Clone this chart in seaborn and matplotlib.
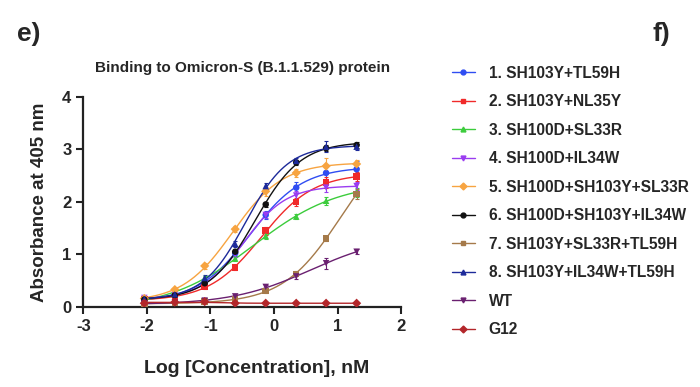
import numpy as np
import pandas as pd
import matplotlib
matplotlib.use("Agg")
import matplotlib.pyplot as plt
from matplotlib.lines import Line2D
import seaborn as sns

# ── Data ──────────────────────────────────────────────────────
log_conc = [-2.04, -1.56, -1.09, -0.61, -0.13, 0.35, 0.82, 1.30]

names = [
    "1. SH103Y+TL59H", "2. SH103Y+NL35Y", "3. SH100D+SL33R", "4. SH100D+IL34W",
    "5. SH100D+SH103Y+SL33R", "6. SH100D+SH103Y+IL34W", "7. SH103Y+SL33R+TL59H",
    "8. SH103Y+IL34W+TL59H", "WT", "G12",
]

s1  = [0.15, 0.23, 0.48, 1.02, 1.75, 2.27, 2.55, 2.62]
s2  = [0.14, 0.20, 0.38, 0.75, 1.45, 2.00, 2.37, 2.48]
s3  = [0.16, 0.24, 0.55, 0.92, 1.35, 1.72, 2.02, 2.18]
s4  = [0.17, 0.23, 0.45, 1.00, 1.75, 2.12, 2.27, 2.30]
s5  = [0.16, 0.33, 0.78, 1.48, 2.20, 2.55, 2.68, 2.72]
s6  = [0.14, 0.22, 0.45, 1.05, 1.95, 2.75, 3.02, 3.08]
s7  = [0.05, 0.07, 0.10, 0.15, 0.30, 0.63, 1.30, 2.15]
s8  = [0.15, 0.24, 0.55, 1.20, 2.30, 2.78, 3.05, 3.05]
swt = [0.07, 0.08, 0.12, 0.20, 0.38, 0.58, 0.83, 1.05]
g12 = [0.07, 0.09, 0.10, 0.07, 0.07, 0.07, 0.07, 0.07]

errs = [
    [0.02, 0.03, 0.04, 0.06, 0.08, 0.10, 0.12, 0.15],
    [0.02, 0.02, 0.03, 0.04, 0.08, 0.08, 0.10, 0.08],
    [0.02, 0.02, 0.03, 0.05, 0.06, 0.05, 0.08, 0.08],
    [0.02, 0.02, 0.03, 0.05, 0.06, 0.08, 0.08, 0.08],
    [0.02, 0.03, 0.05, 0.06, 0.08, 0.08, 0.15, 0.08],
    [0.02, 0.02, 0.03, 0.05, 0.05, 0.05, 0.06, 0.06],
    [0.01, 0.01, 0.02, 0.02, 0.03, 0.05, 0.05, 0.10],
    [0.02, 0.03, 0.05, 0.06, 0.06, 0.06, 0.10, 0.06],
    [0.01, 0.01, 0.02, 0.02, 0.03, 0.04, 0.10, 0.05],
    [0.01, 0.01, 0.01, 0.01, 0.01, 0.01, 0.01, 0.01],
]

colors  = ["#2f4df2", "#f02a2a", "#3ccc3c", "#9a3cf0", "#f7a441",
           "#111111", "#a57a4a", "#1d2a9a", "#6a2070", "#b3262a"]
markers = ["o", "s", "^", "v", "D", "o", "s", "^", "v", "D"]

series = [s1, s2, s3, s4, s5, s6, s7, s8, swt, g12]

df = pd.DataFrame({
    "x": np.tile(log_conc, len(names)),
    "y": np.concatenate(series),
    "sample": np.repeat(names, len(log_conc)),
})


# ── 4PL fit of each series (like the GraphPad curves) ────────
def fit_4pl(x, y):
    x, y = np.asarray(x), np.asarray(y)
    best = None
    for c in np.linspace(-1.5, 3.0, 181):
        for h in np.linspace(0.3, 3.0, 55):
            f = 1 / (1 + 10 ** ((c - x) * h))
            A = np.column_stack([1 - f, f])
            coef, *_ = np.linalg.lstsq(A, y, rcond=None)
            sse = np.sum((A @ coef - y) ** 2)
            if best is None or sse < best[0]:
                best = (sse, c, h, coef)
    _, c, h, (bot, top) = best
    return lambda xx: bot + (top - bot) / (1 + 10 ** ((c - xx) * h))


xs = np.linspace(min(log_conc), max(log_conc), 200)
curves = []
for name, ys in zip(names, series):
    curves.append(pd.DataFrame({"x": xs, "y": fit_4pl(log_conc, ys)(xs), "sample": name}))
curve_df = pd.concat(curves)

# ── Figure ────────────────────────────────────────────────────
sns.set_style("ticks")
plt.rcParams["font.family"] = ["Liberation Sans", "DejaVu Sans"]
plt.rcParams["font.weight"] = "bold"
plt.rcParams["axes.unicode_minus"] = False

fig = plt.figure(figsize=(7, 3.87), dpi=100)
ax = fig.add_axes([0.119, 0.207, 0.454, 0.543])

palette = dict(zip(names, colors))

sns.lineplot(data=curve_df, x="x", y="y", hue="sample", hue_order=names,
             palette=palette, linewidth=1.0, legend=False, ax=ax, zorder=2)

for name, ys, er, c in zip(names, series, errs, colors):
    ax.errorbar(log_conc, ys, yerr=er, fmt="none", ecolor=c,
                elinewidth=0.8, capsize=1.5, capthick=0.8, zorder=3)

sns.scatterplot(data=df, x="x", y="y", hue="sample", style="sample",
                hue_order=names, style_order=names, palette=palette,
                markers=dict(zip(names, markers)), s=22, linewidth=0,
                legend=False, ax=ax, zorder=4)

ax.set_xlim(-3, 2)
ax.set_ylim(0, 4)
ax.set_xticks([-3, -2, -1, 0, 1, 2])
ax.set_yticks([0, 1, 2, 3, 4])
ax.set_xlabel("Log [Concentration], nM", fontsize=14, fontweight="bold")
ax.xaxis.set_label_coords(0.544, -0.255)
ax.set_ylabel("Absorbance at 405 nm", fontsize=13.5, fontweight="bold", labelpad=10)
ax.set_title("Binding to Omicron-S (B.1.1.529) protein", fontsize=11,
             fontweight="bold", pad=18)
ax.tick_params(labelsize=12, width=1.5, length=5, color="#222222")
for lab in ax.get_xticklabels() + ax.get_yticklabels():
    lab.set_fontweight("bold")
sns.despine(ax=ax)
for sp in ["left", "bottom"]:
    ax.spines[sp].set_linewidth(1.6)
    ax.spines[sp].set_color("#222222")

handles = [Line2D([0], [0], color=c, marker=m, markersize=3.5, linewidth=1.0)
           for c, m in zip(colors, markers)]
leg = ax.legend(handles, names, loc="upper left", bbox_to_anchor=(0.645, 0.83),
                bbox_transform=fig.transFigure, frameon=False,
                fontsize=11.2, handlelength=1.5, labelspacing=0.866,
                handletextpad=0.9, borderaxespad=0, borderpad=0)
for t in leg.get_texts():
    t.set_fontweight("bold")

fig.text(0.024, 0.912, "e)", fontsize=19, fontweight="bold", va="center")
fig.text(0.932, 0.912, "f)", fontsize=19, fontweight="bold", va="center")

fig.savefig("out.png", dpi=100)
